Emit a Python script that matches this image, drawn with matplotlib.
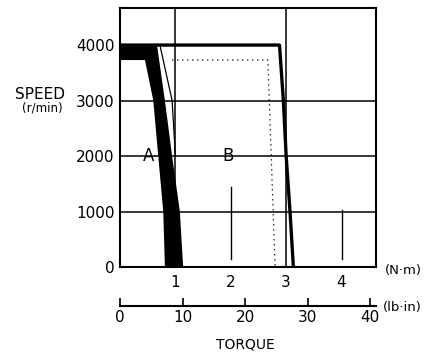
import matplotlib
matplotlib.use("Agg")
import matplotlib.pyplot as plt

# speed-torque characteristic (N·m vs r/min)
a_torque = [0, 0.67, 0.81, 0.94, 1.08, 1.14, 0.81, 0.78, 0.69, 0.60, 0.45, 0]
a_speed = [3980, 3980, 3000, 2000, 1000, 0, 0, 1000, 2000, 3000, 3730, 3730]
a_edge_torque = [0.72, 0.94, 1.00]
a_edge_speed = [4000, 3000, 2000]
b_torque = [0, 2.88, 2.95, 3.00, 3.07, 3.13]
b_speed = [4000, 4000, 3000, 2000, 1000, 0]
b_dot_torque = [0.94, 2.67, 2.80]
b_dot_speed = [3730, 3730, 0]

xticks = [1, 2, 3, 4]
yticks = [0, 1000, 2000, 3000, 4000]
lbin_ticks = [0, 10, 20, 30, 40]
NM_PER_LBIN = 0.113

plt.rcParams["font.family"] = "DejaVu Sans"
fig = plt.figure(figsize=(4.35, 3.58), dpi=100)
ax = fig.add_axes([0.276, 0.254, 0.588, 0.724])
ax.set_xlim(0, 4.62)
ax.set_ylim(0, 4670)

# grid
for y in [1000, 2000, 3000]:
    ax.axhline(y, color="black", lw=1.1, zorder=1)
ax.axvline(1, color="black", lw=1.1, zorder=1)
ax.axvline(3, color="black", lw=1.1, zorder=1)
ax.axvline(2, ymin=0.03, ymax=0.31, color="black", lw=1.0, zorder=1)
ax.axvline(4, ymin=0.03, ymax=0.22, color="black", lw=1.0, zorder=1)

ax.fill(a_torque, a_speed, color="black", lw=0, zorder=3)
ax.plot(a_edge_torque, a_edge_speed, color="black", lw=0.9, zorder=3)
ax.plot(b_torque, b_speed, color="black", lw=2.4, zorder=3)
ax.plot(b_dot_torque, b_dot_speed, color="black", lw=0.9, ls=(0, (1, 3)), zorder=2)

ax.text(0.52, 2000, "A", fontsize=12, ha="center", va="center")
ax.text(1.95, 2000, "B", fontsize=12, ha="center", va="center")

for s in ax.spines.values():
    s.set_linewidth(1.5)
ax.set_xticks(xticks)
ax.set_yticks(yticks)
ax.tick_params(length=0, labelsize=11, pad=4)
ax.tick_params(axis="x", pad=6)

fig.text(0.035, 0.735, "SPEED", fontsize=11, ha="left", va="center")
fig.text(0.05, 0.697, "(r/min)", fontsize=8.5, ha="left", va="center")
fig.text(0.885, 0.245, "(N·m)", fontsize=9.5, ha="left", va="center")

sec = ax.secondary_xaxis(-0.15, functions=(lambda x: x / NM_PER_LBIN,
                                           lambda x: x * NM_PER_LBIN))
sec.set_xticks(lbin_ticks)
sec.tick_params(direction="in", length=6, width=1.2, labelsize=11, pad=3)
sec.spines["bottom"].set_linewidth(1.5)
fig.text(0.88, 0.142, "(lb·in)", fontsize=9.5, ha="left", va="center")
fig.text(0.565, 0.037, "TORQUE", fontsize=10, ha="center", va="center")

fig.savefig("out.png", dpi=100)
